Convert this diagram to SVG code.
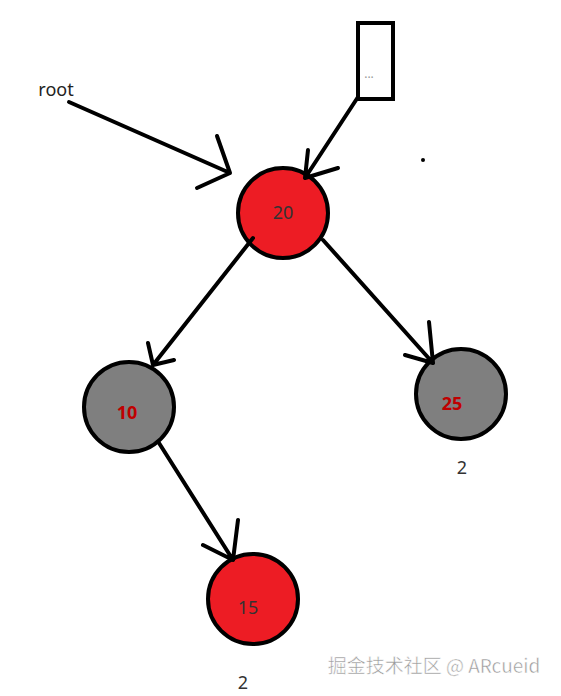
<svg xmlns="http://www.w3.org/2000/svg" width="561" height="696" viewBox="0 0 561 696">
<style>
.node{stroke:#000;stroke-width:4}
.red{fill:#ed1c24}
.gray{fill:#7f7f7f}
.edge{stroke:#000;stroke-width:4;fill:none;stroke-linecap:round;stroke-linejoin:round}
.t{font-family:"Noto Sans","Open Sans","DejaVu Sans",sans-serif;font-size:18px;text-anchor:middle}
.dark{fill:#333}
.rt{fill:#c00000;font-weight:bold}
</style>
<rect width="561" height="696" fill="#fff"/>
<g id="root-label"><text class="t" x="56" y="96" fill="#222">root</text></g>
<g id="box">
<rect x="358" y="23" width="35" height="76" fill="#fff" stroke="#000" stroke-width="4"/>
<text x="369" y="78" font-family="Noto Sans, sans-serif" font-size="12" fill="#999" text-anchor="middle">...</text>
</g>
<g id="node20"><circle class="node red" cx="283" cy="213" r="45"/><text class="t dark" x="283" y="219">20</text></g>
<g id="node10"><circle class="node gray" cx="129" cy="407" r="45"/><text class="t rt" x="127" y="419">10</text></g>
<g id="node25"><circle class="node gray" cx="461" cy="394" r="45"/><text class="t rt" x="452" y="410">25</text></g>
<g id="node15"><circle class="node red" cx="253" cy="599" r="45"/><text class="t dark" x="248" y="614">15</text></g>
<g id="labels">
<text class="t dark" x="462" y="474">2</text>
<text class="t dark" x="243" y="689">2</text>
<circle cx="423" cy="160" r="2" fill="#000"/>
</g>
<g id="connectors" class="edge">
<path d="M69 102 L230 173 M217 136 L230 173 L197 188"/>
<path d="M358 97 L305 178 M308 150 L305 178 L338 168"/>
<path d="M253 238 L153 365 M148 343 L153 365 L174 360"/>
<path d="M323 240 L433 363 M429 322 L433 363 L405 355"/>
<path d="M159 443 L233 560 M238 520 L233 560 L203 545"/>
</g>
<g id="watermark"><text x="434" y="673" font-family="Noto Sans CJK SC, Noto Sans, sans-serif" font-size="19" fill="#999" stroke="#fff" stroke-width="0.5" text-anchor="middle">掘金技术社区 @ ARcueid</text></g>
</svg>
